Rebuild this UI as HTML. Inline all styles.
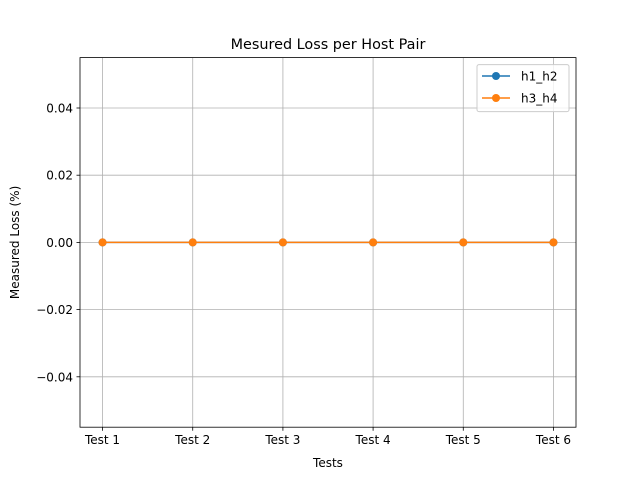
<!DOCTYPE html>
<html><head><meta charset="utf-8"><style>
body{margin:0;background:#fff;font-family:"Liberation Sans","DejaVu Sans",sans-serif;}
svg text{font-family:"DejaVu Sans","Liberation Sans",sans-serif;}
</style></head><body>
<svg id="chart" width="640" height="480" xmlns="http://www.w3.org/2000/svg">
<rect width="640" height="480" fill="#fff"/>
<g id="grid"></g>
<g id="series"></g>
<rect x="80" y="57.6" width="496" height="369.6" fill="none" stroke="#000" stroke-width="0.8"/>
<g id="ticks"></g>
<text x="328" y="49" font-size="14.4" text-anchor="middle">Mesured Loss per Host Pair</text>
<text x="328" y="467" font-size="12" text-anchor="middle">Tests</text>
<text transform="translate(19,242.4) rotate(-90)" font-size="12" text-anchor="middle">Measured Loss (%)</text>
<g>
<rect x="477" y="64.6" width="92" height="47" fill="#fff" fill-opacity="0.8" stroke="#ccc" rx="2"/>
<g>
<line x1="482" y1="76" x2="510" y2="76" stroke="#1f77b4" stroke-width="1.5"/>
<circle cx="496" cy="76" r="4" fill="#1f77b4"/>
<text x="521" y="80.5" font-size="12">h1_h2</text></g>
<g>
<line x1="482" y1="98" x2="510" y2="98" stroke="#ff7f0e" stroke-width="1.5"/>
<circle cx="496" cy="98" r="4" fill="#ff7f0e"/>
<text x="521" y="102.5" font-size="12">h3_h4</text></g>
</g>
</svg>
<script>
const categories=["Test 1","Test 2","Test 3","Test 4","Test 5","Test 6"];
const h1h2=[0,0,0,0,0,0];
const h3h4=[0,0,0,0,0,0];
const yTicks=[-0.04,-0.02,0.00,0.02,0.04];
const yTickLabels=["\u22120.04","\u22120.02","0.00","0.02","0.04"];
const L=80,R=576,T=57.6,B=427.2,ymin=-0.055,ymax=0.055,xmin=-0.25,xmax=categories.length-0.75;
const X=i=>L+(i-xmin)/(xmax-xmin)*(R-L);
const Y=v=>B-(v-ymin)/(ymax-ymin)*(B-T);
const NS="http://www.w3.org/2000/svg";
function mk(tag,attrs,parent){const e=document.createElementNS(NS,tag);for(const k in attrs)e.setAttribute(k,attrs[k]);parent.appendChild(e);return e;}
const grid=document.getElementById('grid'),ticks=document.getElementById('ticks'),ser=document.getElementById('series');
categories.forEach((c,i)=>{
 const g=mk('line',{x1:X(i),x2:X(i),y1:T,y2:B,stroke:'#b0b0b0','stroke-width':0.8},grid);
 
 
 const t=mk('line',{x1:X(i),x2:X(i),y1:B,y2:B+3.5,stroke:'#000','stroke-width':0.8},ticks);
 
 
 const l=mk('text',{x:X(i),y:B+17,'font-size':12,'text-anchor':'middle'},ticks);l.textContent=c;
 
 
});
yTicks.forEach((v,i)=>{
 const g=mk('line',{x1:L,x2:R,y1:Y(v),y2:Y(v),stroke:'#b0b0b0','stroke-width':0.8},grid);
 
 
 const t=mk('line',{x1:L-3.5,x2:L,y1:Y(v),y2:Y(v),stroke:'#000','stroke-width':0.8},ticks);
 
 
 const l=mk('text',{x:L-7,y:Y(v)+4.5,'font-size':12,'text-anchor':'end'},ticks);l.textContent=yTickLabels[i];
 
 
});
[[h1h2,'#1f77b4','h1-h2'],[h3h4,'#ff7f0e','h3-h4']].forEach(([d,col,n])=>{
 const p=mk('polyline',{points:d.map((v,i)=>X(i)+','+Y(v)).join(' '),fill:'none',stroke:col,'stroke-width':1.5},ser);
 
 
 d.forEach((v,i)=>{const c=mk('circle',{cx:X(i),cy:Y(v),r:4,fill:col},ser);
 
 });
});
</script>
</body></html>
